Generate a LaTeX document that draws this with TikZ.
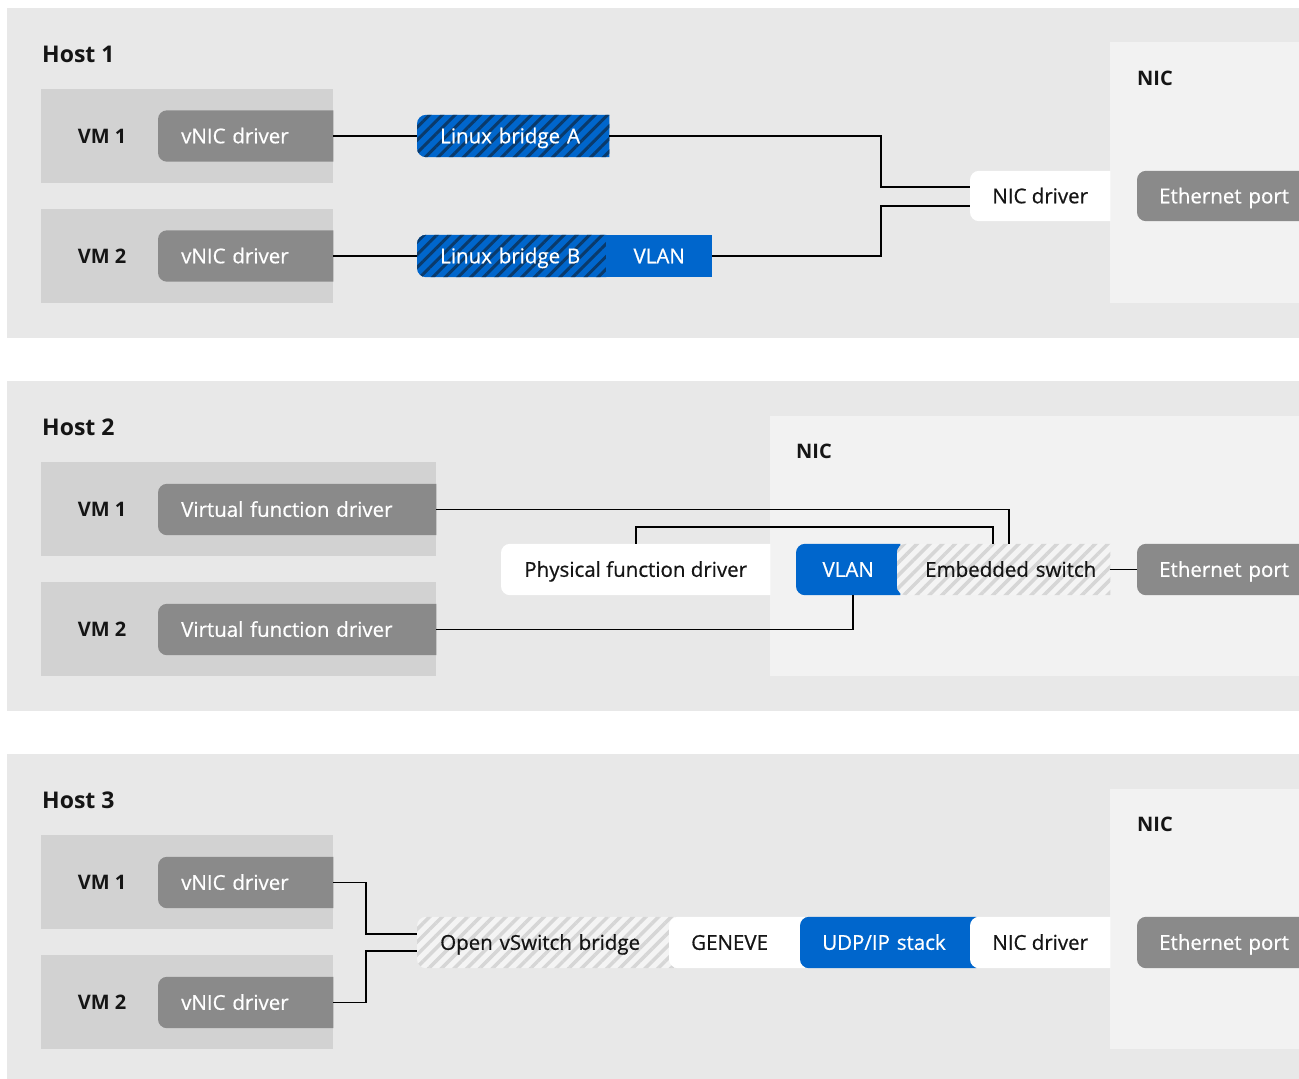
\documentclass[tikz,border=0pt]{standalone}
\usepackage{fontspec}
\setmainfont{Open Sans}
\newfontfamily\partfont{Open Sans}[FakeBold=0.6]
\usetikzlibrary{patterns.meta}

\definecolor{panelbg}{HTML}{E8E8E8}
\definecolor{vmbox}{HTML}{D2D2D2}
\definecolor{nicbg}{HTML}{F2F2F2}
\definecolor{pillgray}{HTML}{8A8A8A}
\definecolor{rhblue}{HTML}{0066CC}
\definecolor{hatchdark}{HTML}{0A3A6B}
\definecolor{hatchlight}{HTML}{D6D6D6}
\definecolor{hatchbase}{HTML}{F4F4F4}
\definecolor{ink}{HTML}{151515}

\pgfdeclarelayer{panels}
\pgfdeclarelayer{shapes}
\pgfsetlayers{panels,shapes,main}

% Backing shape of a component: flat right side, rounded left corners
\newcommand\pillbg[2]{%
  \begin{pgfonlayer}{shapes}
    \path[rounded corners=9pt,#2] (#1.north east) -- (#1.north west) -- (#1.south west) -- (#1.south east);
  \end{pgfonlayer}}

\tikzset{
  lbl/.style={font=\partfont\fontsize{20.5}{24}\selectfont, text=ink, text height=14.6pt, text depth=0pt},
  part/.style={lbl, rectangle, inner ysep=0pt, inner xsep=0pt, minimum height=51pt, anchor=west},
  lpad/.style={text width=#1, align=left, inner xsep=23pt},
  title/.style={font=\bfseries\fontsize{23}{27}\selectfont, text=ink, inner sep=0pt, anchor=west},
  nictitle/.style={font=\bfseries\fontsize{20}{24}\selectfont, text=ink, inner sep=0pt, anchor=west},
  vmlabel/.style={font=\bfseries\fontsize{20}{24}\selectfont, text=ink, inner sep=0pt},
  link/.style={draw=black, line width=1.6pt},
  bluehatch/.style={preaction={fill=rhblue}, pattern={Lines[angle=45,distance=9pt,line width=3pt]}, pattern color=hatchdark},
  grayhatch/.style={preaction={fill=hatchbase}, pattern={Lines[angle=45,distance=9pt,line width=3.5pt]}, pattern color=hatchlight},
}

\begin{document}
\begin{tikzpicture}[x=1pt,y=-1pt]
\useasboundingbox (0,0) rectangle (1299,1079);

% ---------- panels ----------
\begin{pgfonlayer}{panels}
  \fill[white] (0,0) rectangle (1299,1079);
  \fill[panelbg] (7,8) rectangle (1299,338);
  \fill[panelbg] (7,381) rectangle (1299,711);
  \fill[panelbg] (7,754) rectangle (1299,1079);
  % host 1
  \fill[vmbox] (41,89) rectangle (333,183);
  \fill[vmbox] (41,209) rectangle (333,303);
  \fill[nicbg] (1110,42) rectangle (1299,303);
  % host 2
  \fill[vmbox] (41,462) rectangle (436,556);
  \fill[vmbox] (41,582) rectangle (436,676);
  \fill[nicbg] (770,416) rectangle (1299,676);
  % host 3
  \fill[vmbox] (41,835) rectangle (333,929);
  \fill[vmbox] (41,955) rectangle (333,1049);
  \fill[nicbg] (1110,789) rectangle (1299,1049);
\end{pgfonlayer}

% ---------- Host 1 ----------
\node[title] (h1) at (42,54) {Host 1};
\node[nictitle] (h1nic) at (1137,78) {NIC};
\node[vmlabel] (h1vm1) at (102,136) {VM 1};
\node[vmlabel] (h1vm2) at (102,256) {VM 2};

\node[part, lpad=129pt, text=white] (h1v1) at (158,136) {\mbox{vNIC driver}};
\pillbg{h1v1}{fill=pillgray}
\node[part, lpad=129pt, text=white] (h1v2) at (158,256) {\mbox{vNIC driver}};
\pillbg{h1v2}{fill=pillgray}

\node[part, minimum height=42pt, lpad=146pt, text=white] (h1ba) at (417,136) {\mbox{Linux bridge A}};
\pillbg{h1ba}{bluehatch}
\node[part, minimum height=42pt, lpad=143pt, text=white] (h1bb) at (417,256) {\mbox{Linux bridge B}};
\pillbg{h1bb}{bluehatch}
\node[part, minimum height=42pt, minimum width=106pt, text=white, fill=rhblue] (h1vl) at (606,256) {VLAN};

\node[part, minimum height=50pt, minimum width=140pt] (h1nd) at (970,196) {NIC driver};
\pillbg{h1nd}{fill=white}
\node[part, minimum height=50pt, lpad=132pt, inner xsep=22pt, text=white] (h1eth) at (1137,196) {\mbox{Ethernet port}};
\pillbg{h1eth}{fill=pillgray}

\draw[link] (h1v1.east) -- (h1ba.west);
\draw[link] (h1v2.east) -- (h1bb.west);
\draw[link] (h1ba.east) -| ([xshift=-89pt,yshift=9pt]h1nd.west) -- ([yshift=9pt]h1nd.west);
\draw[link] (h1vl.east) -| ([xshift=-89pt,yshift=-10pt]h1nd.west) -- ([yshift=-10pt]h1nd.west);

% ---------- Host 2 ----------
\node[title] (h2) at (42,427) {Host 2};
\node[nictitle] (h2nic) at (796,451) {NIC};
\node[vmlabel] (h2vm1) at (102,509.5) {VM 1};
\node[vmlabel] (h2vm2) at (102,629.5) {VM 2};

\node[part, lpad=232pt, text=white] (h2v1) at (158,509.5) {\mbox{Virtual function driver}};
\pillbg{h2v1}{fill=pillgray}
\node[part, lpad=232pt, text=white] (h2v2) at (158,629.5) {\mbox{Virtual function driver}};
\pillbg{h2v2}{fill=pillgray}

\node[part, minimum width=269pt] (h2pf) at (501,569.5) {Physical function driver};
\pillbg{h2pf}{fill=white}
\node[part, minimum width=104pt, text=white] (h2vl) at (796,569.5) {VLAN};
\pillbg{h2vl}{fill=rhblue}
\node[part, lpad=157pt, inner xsep=28pt] (h2es) at (897,569.5) {\mbox{Embedded switch}};
\pillbg{h2es}{grayhatch}
\node[part, lpad=132pt, inner xsep=22pt, text=white] (h2eth) at (1137,569.5) {\mbox{Ethernet port}};
\pillbg{h2eth}{fill=pillgray}

\draw[link] (h2v1.east) -| ([xshift=5.5pt]h2es.north);
\draw[link] (h2pf.north) -- ++(0,-17) -| ([xshift=-10.5pt]h2es.north);
\draw[link] (h2v2.east) -| ([xshift=5pt]h2vl.south);
\draw[link] (h2es.east) -- (h2eth.west);

% ---------- Host 3 ----------
\node[title] (h3) at (42,800) {Host 3};
\node[nictitle] (h3nic) at (1137,824) {NIC};
\node[vmlabel] (h3vm1) at (102,882.5) {VM 1};
\node[vmlabel] (h3vm2) at (102,1002.5) {VM 2};

\node[part, lpad=129pt, text=white] (h3v1) at (158,882.5) {\mbox{vNIC driver}};
\pillbg{h3v1}{fill=pillgray}
\node[part, lpad=129pt, text=white] (h3v2) at (158,1002.5) {\mbox{vNIC driver}};
\pillbg{h3v2}{fill=pillgray}

\node[part, lpad=212pt] (h3ovs) at (417,942.5) {\mbox{Open vSwitch bridge}};
\pillbg{h3ovs}{grayhatch}
\node[part, lpad=92pt, inner xsep=22pt] (h3gen) at (669,942.5) {\mbox{GENEVE}};
\pillbg{h3gen}{fill=white}
\node[part, lpad=132pt, inner xsep=22pt, text=white] (h3udp) at (800,942.5) {\mbox{UDP/IP stack}};
\pillbg{h3udp}{fill=rhblue}
\node[part, minimum width=140pt] (h3nd) at (970,942.5) {NIC driver};
\pillbg{h3nd}{fill=white}
\node[part, lpad=132pt, inner xsep=22pt, text=white] (h3eth) at (1137,942.5) {\mbox{Ethernet port}};
\pillbg{h3eth}{fill=pillgray}

\draw[link] (h3v1.east) -| ([xshift=-51pt,yshift=8.5pt]h3ovs.west) -- ([yshift=8.5pt]h3ovs.west);
\draw[link] (h3v2.east) -| ([xshift=-51pt,yshift=-8.5pt]h3ovs.west) -- ([yshift=-8.5pt]h3ovs.west);

\end{tikzpicture}
\end{document}
